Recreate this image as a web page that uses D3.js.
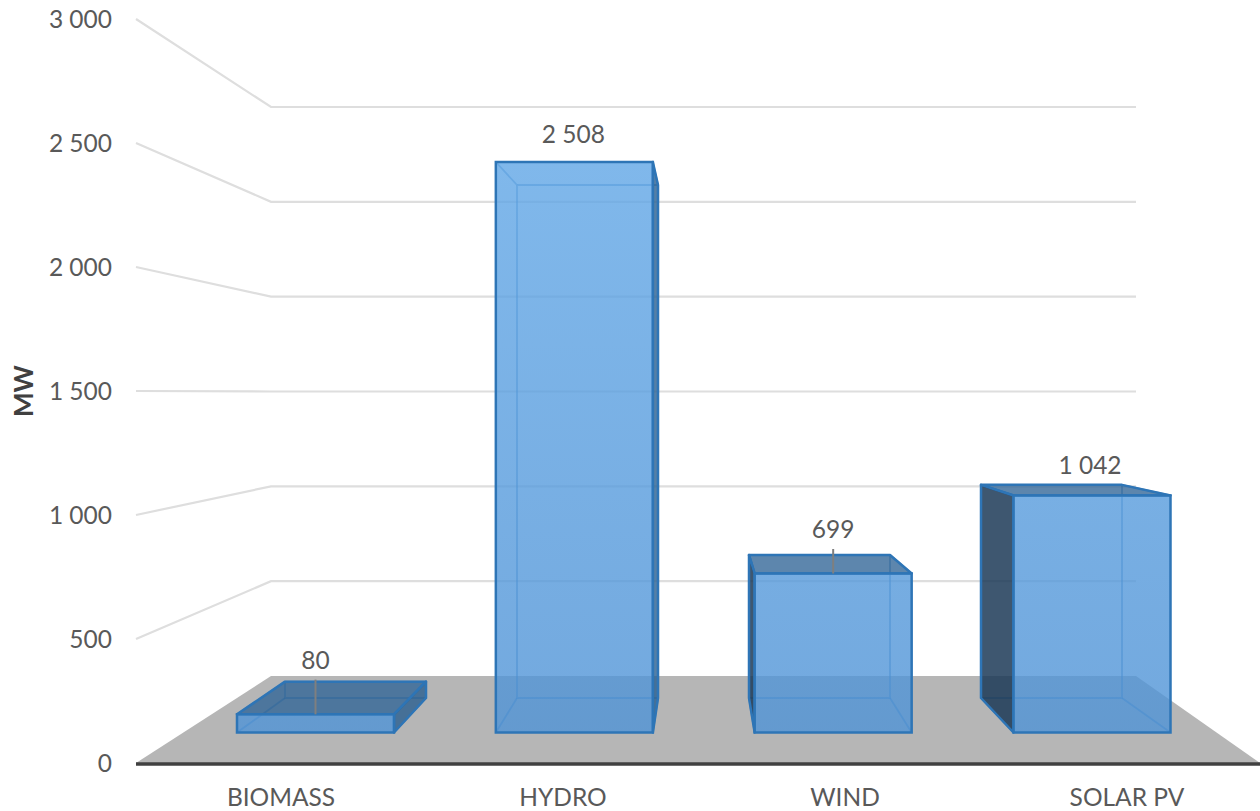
<!DOCTYPE html>
<html>
<head>
<meta charset="utf-8">
<script src="https://cdn.jsdelivr.net/npm/d3@7"></script>
<style>
body { margin: 0; background: #fff; }
svg { display: block; }
text { font-family: Lato, sans-serif; fill: #595959; }
</style>
</head>
<body>
<script>
var categories = ['BIOMASS', 'HYDRO', 'WIND', 'SOLAR PV'];
var capacity = [80, 2508, 699, 1042];
var yTicks = [0, 500, 1000, 1500, 2000, 2500, 3000];
var axisTitle = 'MW';
var hasLeader = [true, false, true, false];

// how far each value label sits above the top of its bar
var LABEL_GAP = [13, 19, 17, 11];
var LABEL_SHIFT = [0, -1, 0, -2];
var BAR_FRONT_W = 157;
var BAR_BACK_W = 141;
var FONT_SIZE = '24.5px';

var width = 1260, height = 811;
var fmt = d3.formatLocale({ decimal: '.', thousands: ' ', grouping: [3], currency: ['', ''] }).format(',');

var svg = d3.select('body').append('svg')
    .attr('width', width)
    .attr('height', height);

// two planes of the box: walls and the bar faces
var wallFront = d3.scaleLinear().domain([0, 3000]).range([763, 19]);
var wallBack = d3.scaleLinear().domain([0, 3000]).range([676, 107]);
var barFront = d3.scaleLinear().domain([0, 2508]).range([732.5, 162]);
var barBack = d3.scaleLinear().domain([0, 2508]).range([698, 185]);
var xFront = d3.scalePoint().domain(categories).range([315.5, 1092]);
var xBack = d3.scalePoint().domain(categories).range([355.5, 1051.5]);
var xLabel = d3.scalePoint().domain(categories).range([281, 1127]);

var WALL_L = 136, WALL_BL = 271, WALL_BR = 1136, WALL_R = 1260;
var line = d3.line();

var defs = svg.append('defs');
var grad = defs.append('linearGradient')
    .attr('id', 'faceGrad')
    .attr('gradientUnits', 'userSpaceOnUse')
    .attr('x1', 0).attr('y1', barFront(2508))
    .attr('x2', 0).attr('y2', barFront(0));
grad.append('stop').attr('offset', 0).attr('stop-color', '#60a6e6').attr('stop-opacity', .8);
grad.append('stop').attr('offset', 1).attr('stop-color', '#4f93d6').attr('stop-opacity', .8);

// floor
svg.append('path')
    .attr('d', line([[WALL_L, wallFront(0)], [WALL_BL, wallBack(0)], [WALL_BR, wallBack(0)], [WALL_R, wallFront(0)]]) + 'Z')
    .attr('fill', '#b6b6b6');

// grid lines on side and back wall
svg.selectAll('.grid')
    .data(yTicks.filter(function (d) { return d > 0; }))
    .enter().append('path')
    .attr('class', 'grid')
    .attr('fill', 'none')
    .attr('stroke', '#dedede')
    .attr('stroke-width', 2.2)
    .attr('d', function (d) {
        return line([[WALL_L, wallFront(d)], [WALL_BL, wallBack(d)], [WALL_BR, wallBack(d)]]);
    });

// axis line
svg.append('line')
    .attr('x1', WALL_L).attr('x2', WALL_R)
    .attr('y1', wallFront(0) + 1).attr('y2', wallFront(0) + 1)
    .attr('stroke', '#404040')
    .attr('stroke-width', 3.5);

svg.selectAll('.tick')
    .data(yTicks)
    .enter().append('text')
    .attr('class', 'tick')
    .attr('x', 112)
    .attr('y', function (d) { return wallFront(d) + 9; })
    .attr('text-anchor', 'end')
    .style('font-size', FONT_SIZE)
    .text(function (d) { return fmt(d); });

svg.append('text')
    .attr('transform', 'translate(33,391) rotate(-90)')
    .attr('text-anchor', 'middle')
    .style('font-size', '26px')
    .style('font-weight', 'bold')
    .style('fill', '#404040')
    .text(axisTitle);

svg.selectAll('.cat')
    .data(categories)
    .enter().append('text')
    .attr('class', 'cat')
    .attr('x', function (d) { return xLabel(d); })
    .attr('y', 805.5)
    .attr('text-anchor', 'middle')
    .style('font-size', FONT_SIZE)
    .text(function (d) { return d; });

// bars
var bars = svg.selectAll('.bar')
    .data(categories)
    .enter().append('g')
    .attr('class', 'bar')
    .each(function (d, i) {
        var g = d3.select(this);
        var v = capacity[i];
        var fl = xFront(d) - BAR_FRONT_W / 2, fr = xFront(d) + BAR_FRONT_W / 2;
        var bl = xBack(d) - BAR_BACK_W / 2, br = xBack(d) + BAR_BACK_W / 2;
        var ft = barFront(v), fb = barFront(0), bt = barBack(v), bb = barBack(0);

        // inner edges, seen through the front
        var inner = [
            [[bl, bt], [br, bt], [br, bb], [bl, bb], [bl, bt]],
            [[fl, fb], [bl, bb]], [[fr, fb], [br, bb]],
            [[fl, ft], [bl, bt]], [[fr, ft], [br, bt]]
        ];
        g.selectAll('.inner').data(inner).enter().append('path')
            .attr('class', 'inner')
            .attr('d', function (p) { return line(p); })
            .attr('fill', 'none')
            .attr('stroke', '#2e75b6')
            .attr('stroke-opacity', .55)
            .attr('stroke-width', 1.8);

        // faces that show from outside
        var dark = [];
        if (bt < ft) dark.push({ p: [[fl, ft], [bl, bt], [br, bt], [fr, ft]], c: '#2f6496', o: .78 });
        if (bl < fl) dark.push({ p: [[fl, ft], [bl, bt], [bl, bb], [fl, fb]], c: '#1c3a57', o: .85 });
        if (br > fr) dark.push({ p: [[fr, ft], [br, bt], [br, bb], [fr, fb]], c: '#2a5f90', o: .8 });
        g.selectAll('.side').data(dark).enter().append('path')
            .attr('class', 'side')
            .attr('d', function (f) { return line(f.p) + 'Z'; })
            .attr('fill', function (f) { return f.c; })
            .attr('fill-opacity', function (f) { return f.o; })
            .attr('stroke', '#2e75b6')
            .attr('stroke-width', 2.5)
            .attr('stroke-linejoin', 'round');

        // front face
        g.append('rect')
            .attr('x', fl).attr('y', ft)
            .attr('width', fr - fl).attr('height', fb - ft)
            .attr('fill', 'url(#faceGrad)')
            .attr('stroke', '#2e75b6')
            .attr('stroke-width', 2.5);

        if (hasLeader[i]) {
            g.append('line')
                .attr('x1', xFront(d)).attr('x2', xFront(d))
                .attr('y1', Math.min(ft, bt) - LABEL_GAP[i] + 11)
                .attr('y2', ft)
                .attr('stroke', '#7f7f7f')
                .attr('stroke-width', 2);
        }

        g.append('text')
            .attr('x', xFront(d) + LABEL_SHIFT[i])
            .attr('y', Math.min(ft, bt) - LABEL_GAP[i])
            .attr('text-anchor', 'middle')
            .style('font-size', FONT_SIZE)
            .text(fmt(v));
    });
</script>
</body>
</html>
